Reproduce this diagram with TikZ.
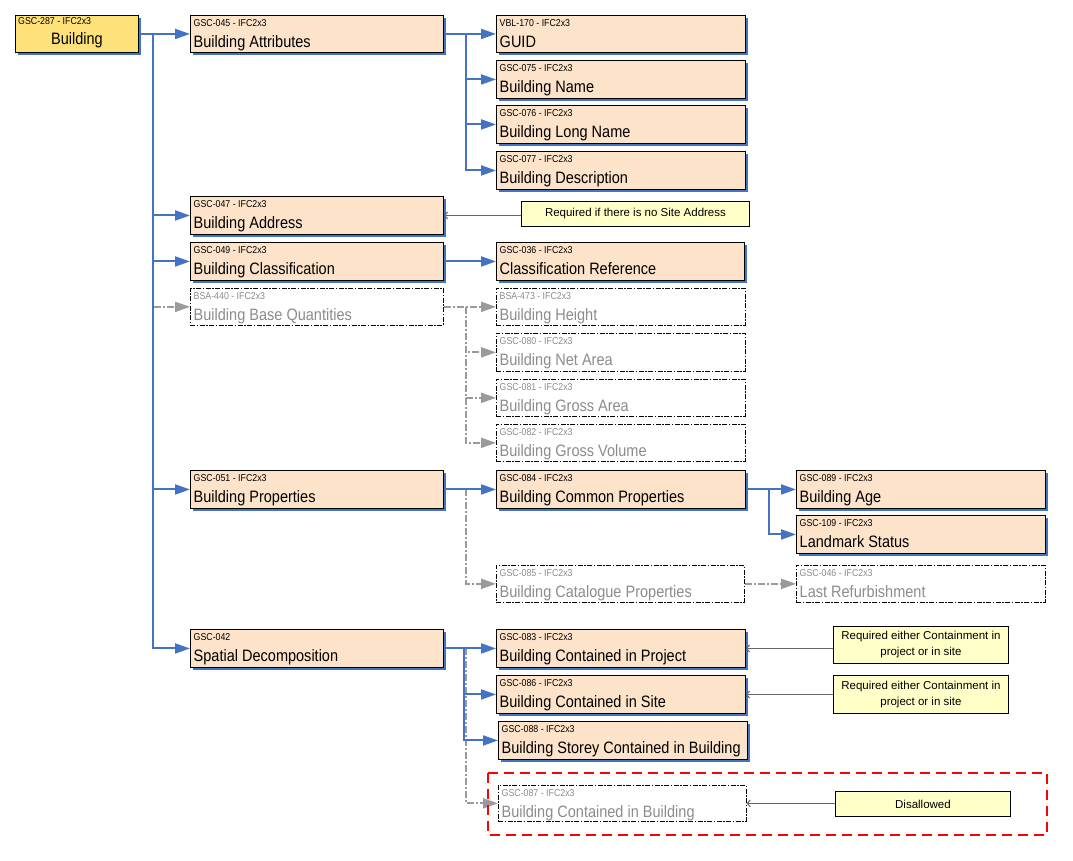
\documentclass[tikz,border=0pt]{standalone}
\usepackage{fontspec}
\setmainfont{Liberation Sans}
\newfontfamily\boxfont{Liberation Sans}[FakeStretch=0.88]
\newfontfamily\notefont{Liberation Sans}
\usetikzlibrary{arrows.meta,calc,shadows}

\definecolor{peach}{HTML}{FDE3C9}
\definecolor{rootyellow}{HTML}{FFE17A}
\definecolor{shblue}{HTML}{4472C4}
\definecolor{flowblue}{HTML}{4472C4}
\definecolor{optgray}{HTML}{8C8C8C}
\definecolor{linkgray}{HTML}{9A9A9A}
\definecolor{noteyellow}{HTML}{FFFFC8}

\tikzset{
  reqbox/.style={draw=black, line width=0.9pt, fill=peach, inner sep=0pt,
    anchor=north west,
    drop shadow={shadow xshift=3pt, shadow yshift=-3pt, fill=shblue, opacity=1}},
  rootbox/.style={reqbox, fill=rootyellow},
  optbox/.style={draw=black, line width=0.7pt,
    dash pattern=on 5pt off 1.5pt on 1.5pt off 1.5pt,
    fill=white, inner sep=0pt, anchor=north west},
  reqbox text/.style={text=black},
  optbox text/.style={text=optgray},
  idtext/.style={anchor=base west, inner sep=0pt,
    font=\boxfont\fontsize{10}{12}\selectfont},
  titletext/.style={anchor=base west, inner sep=0pt,
    font=\boxfont\fontsize{16.5}{18}\selectfont},
  note/.style={draw=black, line width=0.9pt, fill=noteyellow, inner sep=0pt,
    anchor=north west, align=center,
    font=\notefont\fontsize{11.5}{16}\selectfont},
  flow/.style={draw=flowblue, line width=2pt,
    -{Triangle[length=15pt,width=10pt]}},
  optflow/.style={draw=linkgray, line width=2pt,
    dash pattern=on 7pt off 2pt on 2pt off 2pt,
    -{Triangle[length=15pt,width=10pt]}},
  remark/.style={draw=gray!80!black, line width=1pt,
    -{Straight Barb[length=3pt,width=7pt]}},
  zone/.style={draw=red, line width=2pt, dash pattern=on 10pt off 6pt},
}

% \entry{name}{x}{y}{width}{height}{style}{identifier}{title}
\newcommand\entry[8]{%
  \node[#6, minimum width=#4pt, minimum height=#5pt] (#1) at (#2,#3) {};
  \node[idtext, #6 text] (#1-id) at ($(#1.north west)+(3.5,11)$) {#7};
  \node[titletext, #6 text] (#1-tt) at ($(#1.north west)+(3.5,32.5)$) {#8};
}

\begin{document}
\begin{tikzpicture}[x=1pt, y=-1pt]
\useasboundingbox (0,0) rectangle (1073,860);

% root element
\node[rootbox, minimum width=123pt, minimum height=37pt] (root) at (15,15) {};
\node[idtext] (root-id) at ($(root.north west)+(3,9.5)$) {GSC-287 - IFC2x3};
\node[titletext, anchor=base] (root-tt) at ($(root.north)+(0,29.5)$) {Building};

% first level
\entry{ba}{190}{15}{253}{37}{reqbox}{GSC-045 - IFC2x3}{Building Attributes}
\entry{baddr}{190}{196}{253}{38}{reqbox}{GSC-047 - IFC2x3}{Building Address}
\entry{bclass}{190}{242}{253}{38}{reqbox}{GSC-049 - IFC2x3}{Building Classification}
\entry{bbq}{190}{288}{253}{37}{optbox}{BSA-440 - IFC2x3}{Building Base Quantities}
\entry{bprop}{190}{470}{253}{38}{reqbox}{GSC-051 - IFC2x3}{Building Properties}
\entry{sdec}{190}{629}{253}{38}{reqbox}{GSC-042}{Spatial Decomposition}

% attributes
\entry{guid}{496}{15}{249}{37}{reqbox}{VBL-170 - IFC2x3}{GUID}
\entry{bname}{496}{60}{249}{38}{reqbox}{GSC-075 - IFC2x3}{Building Name}
\entry{blong}{496}{105}{249}{38}{reqbox}{GSC-076 - IFC2x3}{Building Long Name}
\entry{bdesc}{496}{151}{249}{38}{reqbox}{GSC-077 - IFC2x3}{Building Description}

% classification
\entry{cref}{496}{242}{248}{38}{reqbox}{GSC-036 - IFC2x3}{Classification Reference}

% base quantities
\entry{bh}{496}{288}{249}{37}{optbox}{BSA-473 - IFC2x3}{Building Height}
\entry{bna}{496}{333}{249}{38}{optbox}{GSC-080 - IFC2x3}{Building Net Area}
\entry{bga}{496}{379}{249}{37}{optbox}{GSC-081 - IFC2x3}{Building Gross Area}
\entry{bgv}{496}{424}{249}{37}{optbox}{GSC-082 - IFC2x3}{Building Gross Volume}

% properties
\entry{bcp}{496}{470}{249}{38}{reqbox}{GSC-084 - IFC2x3}{Building Common Properties}
\entry{bage}{796}{470}{249}{38}{reqbox}{GSC-089 - IFC2x3}{Building Age}
\entry{lms}{796}{515}{249}{38}{reqbox}{GSC-109 - IFC2x3}{Landmark Status}
\entry{bcat}{496}{565}{248}{37}{optbox}{GSC-085 - IFC2x3}{Building Catalogue Properties}
\entry{lref}{796}{565}{249}{37}{optbox}{GSC-046 - IFC2x3}{Last Refurbishment}

% spatial decomposition
\entry{bcip}{496}{629}{249}{38}{reqbox}{GSC-083 - IFC2x3}{Building Contained in Project}
\entry{bcis}{496}{675}{249}{38}{reqbox}{GSC-086 - IFC2x3}{Building Contained in Site}
\entry{bscb}{498}{721}{249}{38}{reqbox}{GSC-088 - IFC2x3}{Building Storey Contained in Building}
\entry{bcib}{498}{785}{248}{36}{optbox}{GSC-087 - IFC2x3}{Building Contained in Building}

% remarks
\node[note, minimum width=228pt, minimum height=25pt] (n1) at (521,201)
  {Required if there is no Site Address};
\node[note, minimum width=175pt, minimum height=37pt] (n2) at (833,626)
  {Required either Containment in\\project or in site};
\node[note, minimum width=175pt, minimum height=38pt] (n3) at (833,675)
  {Required either Containment in\\project or in site};
\node[note, minimum width=175pt, minimum height=25pt] (n4) at (835,791)
  {Disallowed};

% junction points of the trees
\coordinate (rj) at ($(root.east)+(14.5,0)$);
\coordinate (baj) at ($(ba.east)+(22,0)$);
\coordinate (bbqj) at ($(bbq.east)+(22,0)$);
\coordinate (pj) at ($(bprop.east)+(22,0)$);
\coordinate (cpj) at ($(bcp.east)+(23,0)$);
\coordinate (sj) at ($(sdec.east)+(20,0)$);
\coordinate (sjo) at ($(sdec.east)+(22,0)$);

% optional links
\draw[optflow] (rj) |- (bbq.west);
\draw[optflow] (bbq.east) -- (bbqj) |- (bh.west);
\draw[optflow] (bbqj) |- (bna.west);
\draw[optflow] (bbqj) |- (bga.west);
\draw[optflow] (bbqj) |- (bgv.west);
\draw[optflow] (pj) |- (bcat.west);
\draw[optflow] (bcat.east) -- (lref.west);
\draw[optflow] (sjo) |- (bcib.west);

% required links
\draw[flow] (root.east) -- (rj) |- (ba.west);
\draw[flow] (rj) |- (baddr.west);
\draw[flow] (rj) |- (bclass.west);
\draw[flow] (rj) |- (bprop.west);
\draw[flow] (rj) |- (sdec.west);

\draw[flow] (ba.east) -- (baj) |- (guid.west);
\draw[flow] (baj) |- (bname.west);
\draw[flow] (baj) |- (blong.west);
\draw[flow] (baj) |- (bdesc.west);

\draw[flow] (bclass.east) -- (cref.west);

\draw[flow] (bprop.east) -- (pj) |- (bcp.west);
\draw[flow] (bcp.east) -- (cpj) |- (bage.west);
\draw[flow] (cpj) |- (lms.west);

\draw[flow] (sdec.east) -- (sj) |- (bcip.west);
\draw[flow] (sj) |- (bcis.west);
\draw[flow] (sj) |- (bscb.west);

% remark pointers
\draw[remark] (n1.west |- baddr.east) -- (baddr.east);
\draw[remark] (n2.west |- bcip.east) -- (bcip.east);
\draw[remark] (n3.west |- bcis.east) -- (bcis.east);
\draw[remark] (n4.west |- bcib.east) -- (bcib.east);

% disallowed region
\draw[zone] (488,773) rectangle (1047,835);
\end{tikzpicture}
\end{document}
